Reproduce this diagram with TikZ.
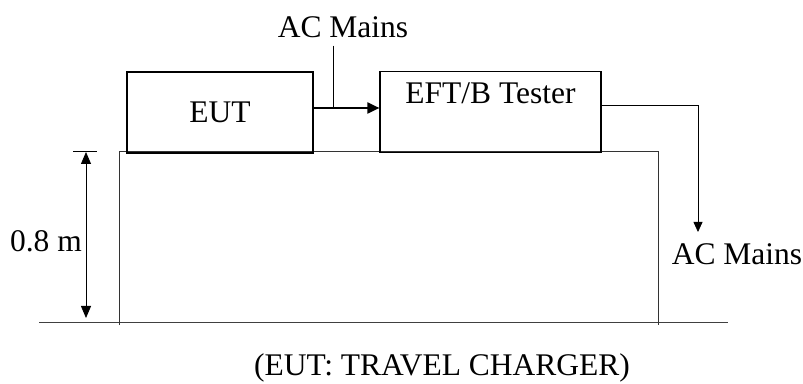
\documentclass[tikz,border=0pt]{standalone}
\usepackage{fontspec}
\setmainfont{Liberation Serif}
\usetikzlibrary{arrows.meta}

\begin{document}
\begin{tikzpicture}[x = 1pt, y = 1pt,
		box/.style = {draw, line width = 1.2pt, inner sep = 0pt},
		bigtip/.style = {-{Triangle[length = 12pt, width = 11pt]}},
		smalltip/.style = {-{Triangle[length = 10pt, width = 9pt]}},
		every node/.style = {font = \fontsize{31.5}{37}\selectfont}]

		\useasboundingbox (0, 0) rectangle (803, 383);

		% Floor and table
		\draw[line width = 1pt, black!75] (39, 61) -- (728, 61);
		\draw[line width = 1pt, black!80] (119, 58) -- (119, 231) -- (658, 231) -- (658, 58);

		% EUT and tester
		\node[box, minimum width = 186, minimum height = 81] (eut) at (220, 270.5) {EUT};
		\node[box, anchor = north, minimum width = 221, text height = 32, text depth = 49] (tester) at (490.5, 312) {EFT/B Tester};

		% Height of the table
		\draw[line width = 1pt] (73, 231) -- (97, 231);
		\draw[line width = 0.8pt, {Triangle[length = 12pt, width = 10pt]}-{Triangle[length = 12pt, width = 10pt]}] (86, 231) -- (86, 65);
		\node[anchor = base east, inner sep = 0pt] (height) at (82, 131) {0.8 m};

		% Mains into the tester
		\node[anchor = base, inner sep = 7pt] (mainsin) at (343, 345) {AC Mains};
		\coordinate (join) at (333, 275);
		\draw[line width = 1pt] (mainsin.south -| join) -- (join);
		\draw[line width = 2pt, bigtip] (eut.east |- join) -- (tester.west |- join);

		% Mains out of the tester
		\node[anchor = base, inner sep = 0pt] (mainsout) at (737, 118) {AC Mains};
		\coordinate (turn) at (698, 278);
		\coordinate (drop) at (698, 151);
		\draw[line width = 0.8pt, smalltip] (tester.east |- turn) -- (turn) -- (drop);

		\node[anchor = base, inner sep = 0pt] (note) at (442, 8) {(EUT: TRAVEL CHARGER)};

	\end{tikzpicture}
\end{document}
